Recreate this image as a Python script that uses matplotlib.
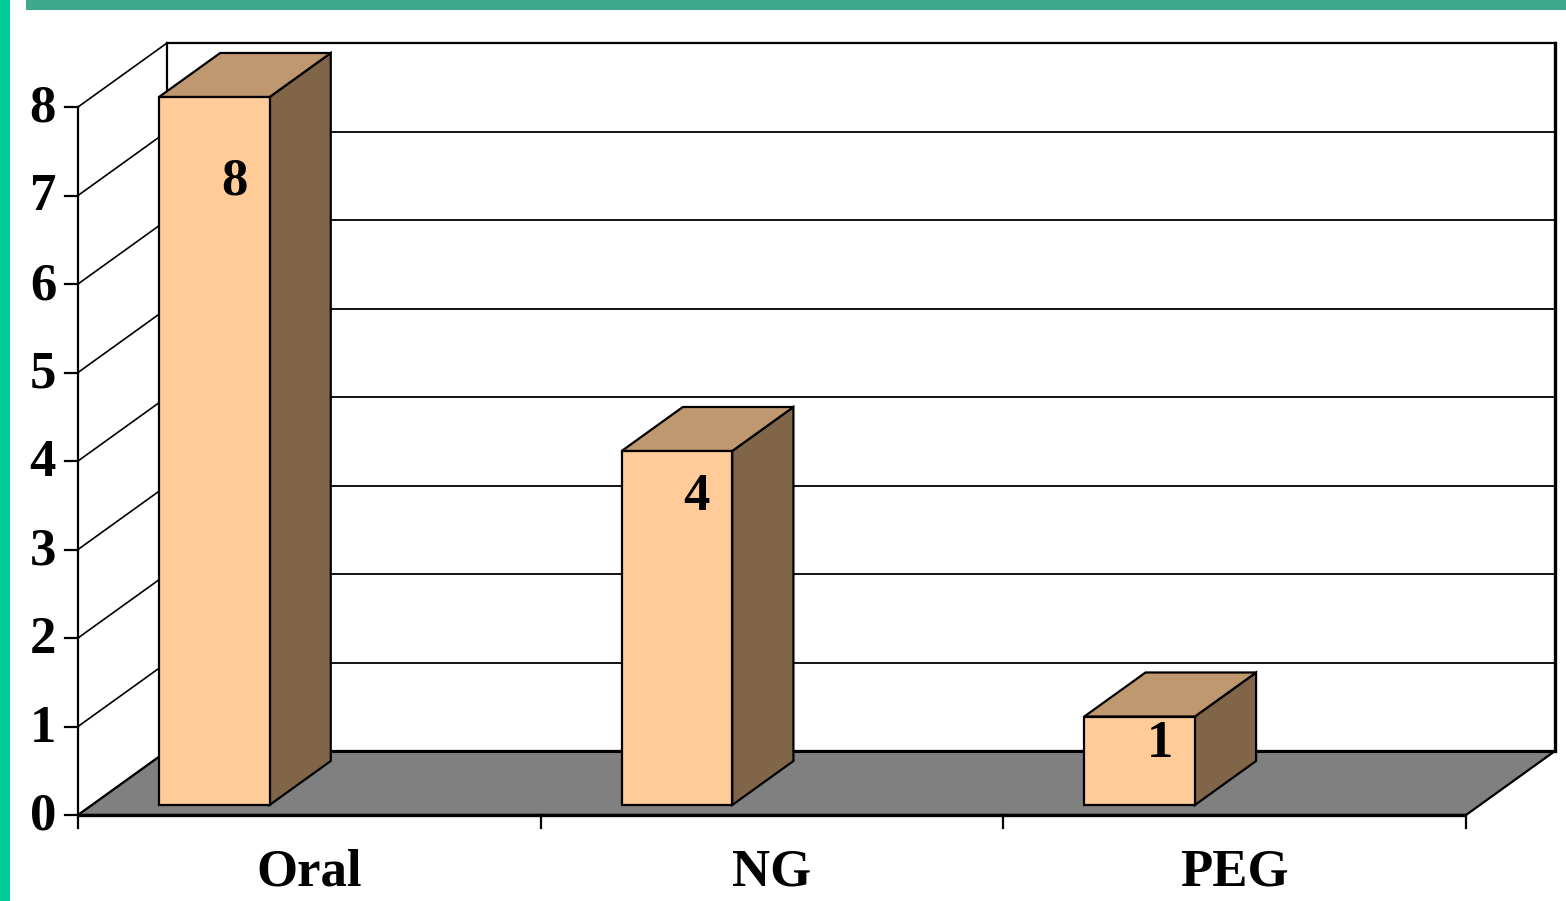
import matplotlib
matplotlib.use("Agg")
import matplotlib.pyplot as plt
from matplotlib.patches import Polygon, Rectangle

# Data
categories = ["Oral", "NG", "PEG"]
counts = [8, 4, 1]
y_ticks = [0, 1, 2, 3, 4, 5, 6, 7, 8]
y_max = 8

# Styling / geometry of the oblique 3D look
FRONT_COLOR = "#FFCC99"
TOP_COLOR = "#C09870"
SIDE_COLOR = "#806548"
FLOOR_COLOR = "#808080"
DEPTH_DX = 0.1923      # horizontal shift (category units) for full depth
DEPTH_DY = 0.723       # vertical shift (value units) for full depth
BAR_LEFT = 0.145       # bar left edge inside its category slot
BAR_WIDTH = 0.239
BAR_D0, BAR_D1 = 0.156, 0.844
label_drop = [0.96, 0.52, 0.31]
FONT = dict(family="Liberation Serif", fontweight="bold", color="black")
FS = 38

W, H = 1566, 901
fig = plt.figure(figsize=(W / 100, H / 100), dpi=100)
fig.patch.set_facecolor("white")

# Decorative border strips
fig.patches.append(Rectangle((0, 0), 10 / W, 1, transform=fig.transFigure,
                             facecolor="#00CC99", edgecolor="none", zorder=0))
fig.patches.append(Rectangle((26 / W, 1 - 10 / H), 1 - 26 / W, 10 / H,
                             transform=fig.transFigure, facecolor="#40A88C",
                             edgecolor="none", zorder=0))

ax = fig.add_axes([0, 0, 1, 1])
ax.set_axis_off()
px_x = 462.67
px_y = 88.5
ax.set_xlim(-78 / px_x, (W - 78) / px_x)
ax.set_ylim(-86 / px_y, (H - 86) / px_y)

n = len(categories)


def P(x, v, d):
    """Project (category position, value, depth fraction) onto the plane."""
    return (x + d * DEPTH_DX, v + d * DEPTH_DY)


lw = 1.6

# Floor
floor = Polygon([P(0, 0, 0), P(n, 0, 0), P(n, 0, 1), P(0, 0, 1)], closed=True,
                facecolor=FLOOR_COLOR, edgecolor="black", lw=lw, zorder=1)
ax.add_patch(floor)
ax.plot(*zip(P(0, 0, 0), P(n, 0, 0)), color="black", lw=2.4, zorder=6,
        solid_capstyle="butt")

# Back wall outline and gridlines
for v in y_ticks[1:]:
    xs, ys = zip(P(0, v, 1), P(n, v, 1))
    ax.plot(xs, ys, color="black", lw=1.3 if v < y_max else lw, zorder=2)
ax.plot(*zip(P(0, 0, 1), P(n, 0, 1)), color="black", lw=2.2, zorder=2)
ax.plot(*zip(P(0, 0, 1), P(0, y_max, 1)), color="black", lw=lw, zorder=2)
ax.plot(*zip(P(n, 0, 1), P(n, y_max, 1)), color="black", lw=2.4, zorder=2)

# Left wall lines and value axis
for v in y_ticks:
    ax.plot(*zip(P(0, v, 0), P(0, v, 1)), color="black", lw=1.2, zorder=2)
    ax.plot([-13 / px_x, 0], [v, v], color="black", lw=lw, zorder=6)
    ax.text(-22 / px_x, v - 2 / px_y, str(v), ha="right", va="center",
            fontsize=FS, **FONT)
ax.plot([0, 0], [-13 / px_y, y_max], color="black", lw=lw, zorder=6)

# Category ticks and labels
for i in range(1, n + 1):
    ax.plot([i, i], [-13 / px_y, 0], color="black", lw=lw, zorder=6)
for i, name in enumerate(categories):
    ax.text(i + 0.5, -58 / px_y, name, ha="center", va="center",
            fontsize=FS, **FONT)

# Bars
for i, v in enumerate(counts):
    x0 = i + BAR_LEFT
    x1 = x0 + BAR_WIDTH
    front = [P(x0, 0, BAR_D0), P(x1, 0, BAR_D0), P(x1, v, BAR_D0), P(x0, v, BAR_D0)]
    top = [P(x0, v, BAR_D0), P(x1, v, BAR_D0), P(x1, v, BAR_D1), P(x0, v, BAR_D1)]
    side = [P(x1, 0, BAR_D0), P(x1, 0, BAR_D1), P(x1, v, BAR_D1), P(x1, v, BAR_D0)]
    for pts, col in ((side, SIDE_COLOR), (top, TOP_COLOR), (front, FRONT_COLOR)):
        ax.add_patch(Polygon(pts, closed=True, facecolor=col, edgecolor="black",
                             lw=lw, zorder=4, joinstyle="miter"))
    lx, ly = P(x0 + BAR_WIDTH / 2 + 20 / px_x, v - label_drop[i], BAR_D0)
    ax.text(lx, ly, str(v), ha="center", va="center", fontsize=FS, zorder=5,
            **FONT)

fig.savefig("out.png", dpi=100, facecolor="white")
